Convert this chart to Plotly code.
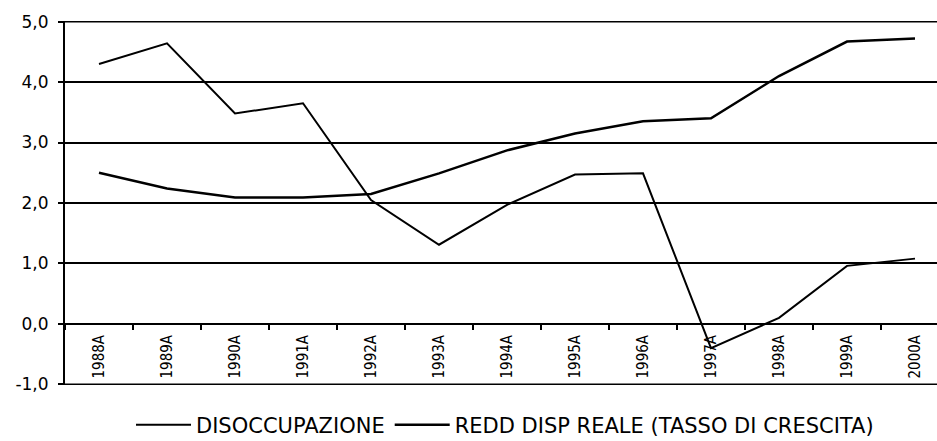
import plotly.graph_objects as go

years = ["1988A", "1989A", "1990A", "1991A", "1992A", "1993A", "1994A",
         "1995A", "1996A", "1997A", "1998A", "1999A", "2000A"]
disoccupazione = [4.30, 4.64, 3.48, 3.65, 2.05, 1.31, 1.97, 2.47, 2.49, -0.40, 0.10, 0.96, 1.08]
redd_disp = [2.50, 2.24, 2.09, 2.09, 2.15, 2.49, 2.87, 3.15, 3.35, 3.40, 4.10, 4.67, 4.72]
y_ticks = [-1, 0, 1, 2, 3, 4, 5]
y_ticktext = ["-1,0", "0,0", "1,0", "2,0", "3,0", "4,0", "5,0"]

W, H = 937, 441
ml, mt, mb = 65, 21, 56
ymin, ymax = min(y_ticks), max(y_ticks)
pad = 0.01

fig = go.Figure()
fig.add_trace(go.Scatter(x=years, y=disoccupazione, mode="lines", name="DISOCCUPAZIONE",
                         line=dict(color="black", width=2)))
fig.add_trace(go.Scatter(x=years, y=redd_disp, mode="lines", name="REDD DISP REALE (TASSO DI CRESCITA)",
                         line=dict(color="black", width=2.5)))

# top and bottom grid lines (at the range ends)
for yv in (ymin, ymax):
    fig.add_shape(type="line", xref="paper", yref="y", x0=0, x1=1, y0=yv, y1=yv,
                  line=dict(color="black", width=2), layer="below")

cat_px = 68.0
plot_w = W - ml
fig.update_layout(
    width=W, height=H,
    margin=dict(l=ml, r=0, t=mt, b=mb, pad=0, autoexpand=False),
    paper_bgcolor="white", plot_bgcolor="white",
    font=dict(family="DejaVu Sans, sans-serif", color="black"),
    showlegend=True,
    legend=dict(orientation="h", x=0.5046, xanchor="center",
                yref="container", y=(H - 425) / H, yanchor="middle",
                font=dict(size=21, family="DejaVu Sans, sans-serif"),
                itemwidth=55, tracegroupgap=0, bgcolor="rgba(0,0,0,0)"),
    xaxis=dict(
        type="category", range=[-0.5, -0.5 + plot_w / cat_px],
        anchor="free", position=(0 - (ymin - pad)) / ((ymax + pad) - (ymin - pad)),
        showline=True, linecolor="black", linewidth=2,
        ticks="outside", tickson="boundaries", ticklen=5, tickwidth=2, tickcolor="black",
        tickangle=-90, showgrid=False, ticklabelstandoff=4,
        tickfont=dict(family="Liberation Sans Narrow, DejaVu Sans Condensed, sans-serif", size=15),
    ),
    yaxis=dict(
        range=[ymin - pad, ymax + pad],
        tickvals=y_ticks, ticktext=y_ticktext,
        showgrid=True, gridcolor="black", gridwidth=2,
        zeroline=True, zerolinecolor="black", zerolinewidth=2,
        showline=True, linecolor="black", linewidth=2,
        ticks="outside", ticklen=5, tickwidth=2, tickcolor="black",
        ticklabelstandoff=6,
        tickfont=dict(size=17, family="DejaVu Sans, sans-serif"),
    ),
)

fig.write_html("out.html", config={"displayModeBar": False},
               post_script="document.body.style.margin='0';document.body.style.overflow='hidden';")
